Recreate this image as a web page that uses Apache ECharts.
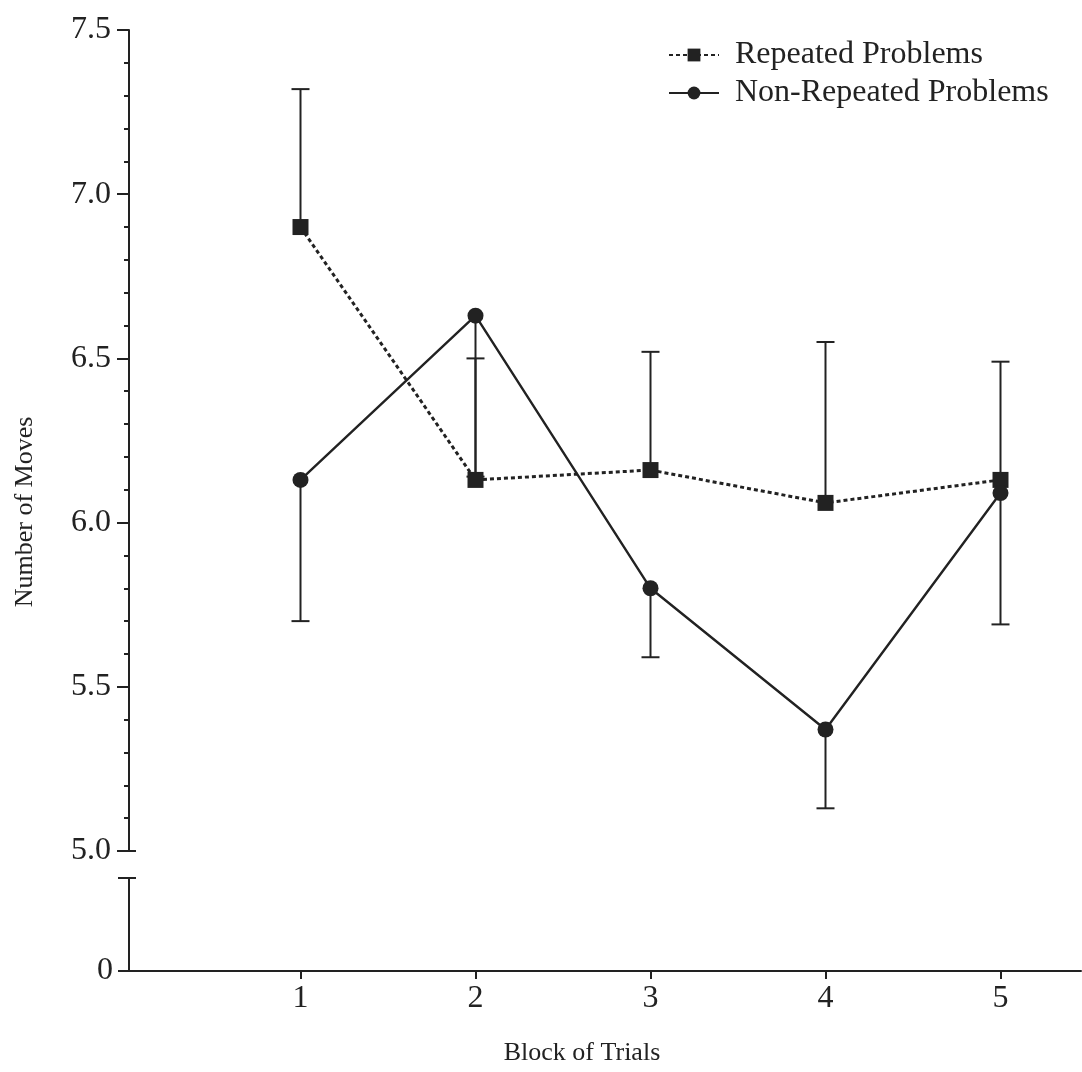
<!DOCTYPE html>
<html>
<head>
<meta charset="utf-8">
<script src="https://cdn.jsdelivr.net/npm/echarts@6/dist/echarts.min.js"></script>
<style>
html,body{margin:0;padding:0;background:#fff;}
#chart{width:1082px;height:1072px;}
</style>
</head>
<body>
<div id="chart"></div>
<script>
// ---- data ----
const blocks = [1, 2, 3, 4, 5];
const repeated = [6.90, 6.13, 6.16, 6.06, 6.13];
const repeatedUpper = [7.32, 6.50, 6.52, 6.55, 6.49];
const nonRepeated = [6.13, 6.63, 5.80, 5.37, 6.09];
const nonRepeatedLower = [5.70, 6.14, 5.59, 5.13, 5.69];
const yTicksUpper = [5.0, 5.5, 6.0, 6.5, 7.0, 7.5];
const seriesNames = ['Repeated Problems', 'Non-Repeated Problems'];
const xTitle = 'Block of Trials';
const yTitle = 'Number of Moves';

const FONT = '"Liberation Serif", "DejaVu Serif", serif';
const INK = '#222';

const chart = echarts.init(document.getElementById('chart'), null, {renderer: 'canvas'});

function errorBar(params, api) {
  const x = api.value(0);
  const p0 = api.coord([x, api.value(1)]);
  const p1 = api.coord([x, api.value(2)]);
  const hw = 9;
  return {
    type: 'group',
    children: [
      {type: 'line', shape: {x1: p0[0], y1: p0[1], x2: p1[0], y2: p1[1]}, style: {stroke: INK, lineWidth: 2}},
      {type: 'line', shape: {x1: p1[0] - hw, y1: p1[1], x2: p1[0] + hw, y2: p1[1]}, style: {stroke: INK, lineWidth: 2}}
    ]
  };
}

const xCommon = {
  type: 'value', min: 0.02, max: 5.46
};

const option = {
  backgroundColor: '#fff',
  animation: false,
  textStyle: {fontFamily: FONT, color: INK},
  grid: [
    {left: 129, right: 1, top: 30, height: 821},
    {left: 129, right: 1, top: 878, height: 93}
  ],
  legend: {
    orient: 'vertical',
    left: 663, top: 32,
    itemWidth: 50, itemHeight: 16, itemGap: 2,
    data: seriesNames,
    textStyle: {fontFamily: FONT, fontSize: 32, color: INK, lineHeight: 36, padding: [0, 0, 0, 11]}
  },
  xAxis: [
    Object.assign({gridIndex: 0, show: false}, xCommon),
    Object.assign({
      gridIndex: 1,
      axisLine: {show: true, onZero: false, lineStyle: {color: INK, width: 2}},
      axisTick: {show: true, length: 8, customValues: blocks, lineStyle: {color: INK, width: 2}},
      axisLabel: {show: true, customValues: blocks, margin: 12, fontFamily: FONT, fontSize: 32, color: INK},
      splitLine: {show: false}
    }, xCommon)
  ],
  yAxis: [
    {
      gridIndex: 0, type: 'value', min: 5, max: 7.5, interval: 0.5,
      axisLine: {show: true, lineStyle: {color: INK, width: 2}},
      axisTick: {show: true, length: 12, lineStyle: {color: INK, width: 2}},
      minorTick: {show: true, splitNumber: 5, length: 5, lineStyle: {color: INK, width: 2}},
      axisLabel: {margin: 18, fontFamily: FONT, fontSize: 32, color: INK,
        formatter: v => yTicksUpper.some(t => Math.abs(t - v) < 1e-6) ? v.toFixed(1) : ''},
      splitLine: {show: false}
    },
    {
      gridIndex: 1, type: 'value', min: 0, max: 1, interval: 1,
      axisLine: {show: true, lineStyle: {color: INK, width: 2}},
      axisTick: {show: true, length: 11, lineStyle: {color: INK, width: 2}},
      axisLabel: {margin: 16, fontFamily: FONT, fontSize: 32, color: INK,
        formatter: v => v === 0 ? '0' : ''},
      splitLine: {show: false}
    }
  ],
  series: [
    {
      type: 'custom', name: 'repErr', xAxisIndex: 0, yAxisIndex: 0, z: 1,
      renderItem: errorBar, encode: {x: 0, y: [1, 2]},
      data: blocks.map((b, i) => [b, repeated[i], repeatedUpper[i]]),
      silent: true
    },
    {
      type: 'custom', name: 'nonErr', xAxisIndex: 0, yAxisIndex: 0, z: 1,
      renderItem: errorBar, encode: {x: 0, y: [1, 2]},
      data: blocks.map((b, i) => [b, nonRepeated[i], nonRepeatedLower[i]]),
      silent: true
    },
    {
      type: 'line', name: seriesNames[0], xAxisIndex: 0, yAxisIndex: 0, z: 3,
      data: blocks.map((b, i) => [b, repeated[i]]),
      symbol: 'rect', symbolSize: 16,
      lineStyle: {color: INK, width: 3, type: [4, 3]},
      itemStyle: {color: INK}
    },
    {
      type: 'line', name: seriesNames[1], xAxisIndex: 0, yAxisIndex: 0, z: 4,
      data: blocks.map((b, i) => [b, nonRepeated[i]]),
      symbol: 'circle', symbolSize: 16,
      lineStyle: {color: INK, width: 2.4, type: 'solid'},
      itemStyle: {color: INK}
    }
  ]
};
chart.setOption(option);

// axis-break stubs (extend the 5.0 tick and the lower axis cap to the right of the axis)
const pTop = chart.convertToPixel({gridIndex: 0}, [0.02, 5]);
const pLow = chart.convertToPixel({gridIndex: 1}, [0.02, 1]);
chart.setOption({
  graphic: [
    {type: 'line', shape: {x1: pTop[0], y1: pTop[1], x2: pTop[0] + 7, y2: pTop[1]}, style: {stroke: INK, lineWidth: 2}},
    {type: 'line', shape: {x1: pLow[0], y1: pLow[1], x2: pLow[0] + 7, y2: pLow[1]}, style: {stroke: INK, lineWidth: 2}},
    {type: 'text', x: 582, y: 1053, style: {text: xTitle, font: '26px ' + FONT, fill: INK, textAlign: 'center', textVerticalAlign: 'middle'}},
    {type: 'text', x: 25, y: 512, rotation: Math.PI / 2, style: {text: yTitle, font: '26px ' + FONT, fill: INK, textAlign: 'center', textVerticalAlign: 'middle'}}
  ]
});
</script>
</body>
</html>
